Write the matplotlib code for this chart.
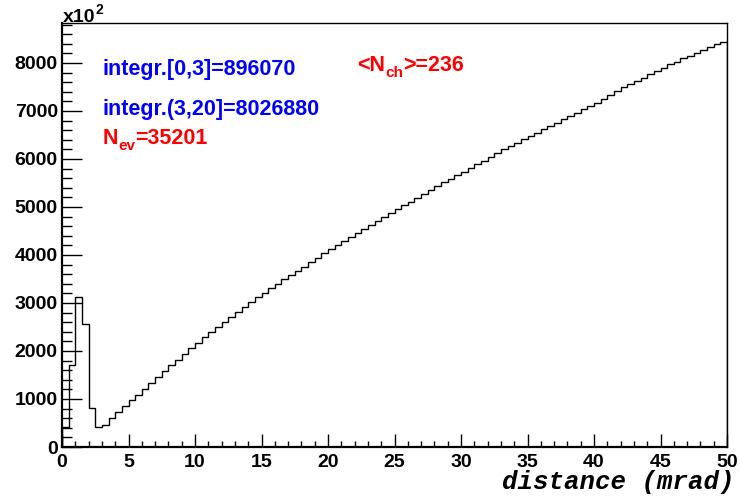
import numpy as np
import matplotlib
matplotlib.use("Agg")
import matplotlib.pyplot as plt
from matplotlib.ticker import MultipleLocator

# ---- data (values in units of 10^2) ----
bin_width = 0.5
x_min = 0.0
counts = [
    410, 1700, 3120, 2570, 820, 410, 458, 597, 736, 854,
    979, 1076, 1201, 1326, 1451, 1583, 1708, 1812, 1937, 2056,
    2174, 2285, 2396, 2507, 2604, 2715, 2820, 2924, 3028, 3118,
    3215, 3306, 3396, 3493, 3583, 3674, 3757, 3854, 3944, 4035,
    4118, 4208, 4299, 4382, 4465, 4535, 4625, 4715, 4799, 4882,
    4951, 5042, 5111, 5194, 5271, 5354, 5438, 5514, 5583, 5667,
    5736, 5806, 5889, 5958, 6040, 6115, 6201, 6271, 6340, 6410,
    6479, 6549, 6618, 6688, 6757, 6826, 6896, 6965, 7035, 7104,
    7174, 7260, 7340, 7410, 7493, 7563, 7632, 7694, 7764, 7833,
    7903, 7972, 8028, 8097, 8153, 8215, 8271, 8326, 8389, 8440,
]
x_ticks = [0, 5, 10, 15, 20, 25, 30, 35, 40, 45, 50]
y_ticks = [0, 1000, 2000, 3000, 4000, 5000, 6000, 7000, 8000]
x_label = "distance (mrad)"
txt_int1 = "integr.[0,3]=896070"
txt_int2 = "integr.(3,20]=8026880"
nev_value = "35201"
nch_value = "236"

W, H = 740, 498
fig = plt.figure(figsize=(W / 100, H / 100), dpi=100)
fig.patch.set_facecolor("white")

L, R, T, B = 62, 727, 23, 447
ax = fig.add_axes([L / W, 1 - B / H, (R - L) / W, (B - T) / H])

edges = x_min + bin_width * np.arange(len(counts) + 1)
ax.stairs(counts, edges, color="black", linewidth=1.0, baseline=0)

ax.set_xlim(0, 50)
ax.set_ylim(0, 8833)

ax.set_xticks(x_ticks)
ax.set_yticks(y_ticks)
ax.xaxis.set_minor_locator(MultipleLocator(1))
ax.yaxis.set_minor_locator(MultipleLocator(200))

ax.tick_params(axis="both", which="both", direction="in", top=False, right=False,
               color="black")
ax.tick_params(axis="y", which="major", length=14.5, width=1.0, pad=3)
ax.tick_params(axis="y", which="minor", length=7.2, width=1.0)
ax.tick_params(axis="x", which="major", length=9.5, width=1.0, pad=5)
ax.tick_params(axis="x", which="minor", length=4.5, width=1.0)

for lab in ax.get_xticklabels() + ax.get_yticklabels():
    lab.set_fontfamily("Liberation Sans")
    lab.set_fontweight("bold")
    lab.set_fontsize(14)

for s in ["left", "bottom"]:
    ax.spines[s].set_linewidth(1.6)
for s in ["top", "right"]:
    ax.spines[s].set_linewidth(1.0)

# x axis title
fig.text(735 / W, 1 - 489 / H, x_label, ha="right", va="baseline",
         fontfamily="Liberation Mono", fontweight="bold", fontstyle="italic",
         fontsize=18.5, color="black")

renderer = fig.canvas.get_renderer()


def rich_text(x_px, y_base_px, segments, color):
    x = x_px
    for txt, size, dy in segments:
        t = fig.text(x / W, 1 - (y_base_px + dy) / H, txt, ha="left", va="baseline",
                     fontfamily="Liberation Sans", fontweight="bold",
                     fontsize=size, color=color)
        bb = t.get_window_extent(renderer)
        x += bb.width


# x10^2 multiplier
rich_text(63, 22, [("x10", 14, 0), ("2", 10, -8)], "black")

blue = "#0000FF"
red = "#FF0000"
rich_text(103, 75, [(txt_int1, 15.5, 0)], blue)
rich_text(103, 115, [(txt_int2, 15.5, 0)], blue)
rich_text(103, 144, [("N", 15.5, 0), ("ev", 11, 6), ("=" + nev_value, 15.5, 0)], red)
rich_text(357, 71, [("<N", 15.5, 0), ("ch", 11, 6), (">=" + nch_value, 15.5, 0)], red)

fig.savefig("out.png", dpi=100)
